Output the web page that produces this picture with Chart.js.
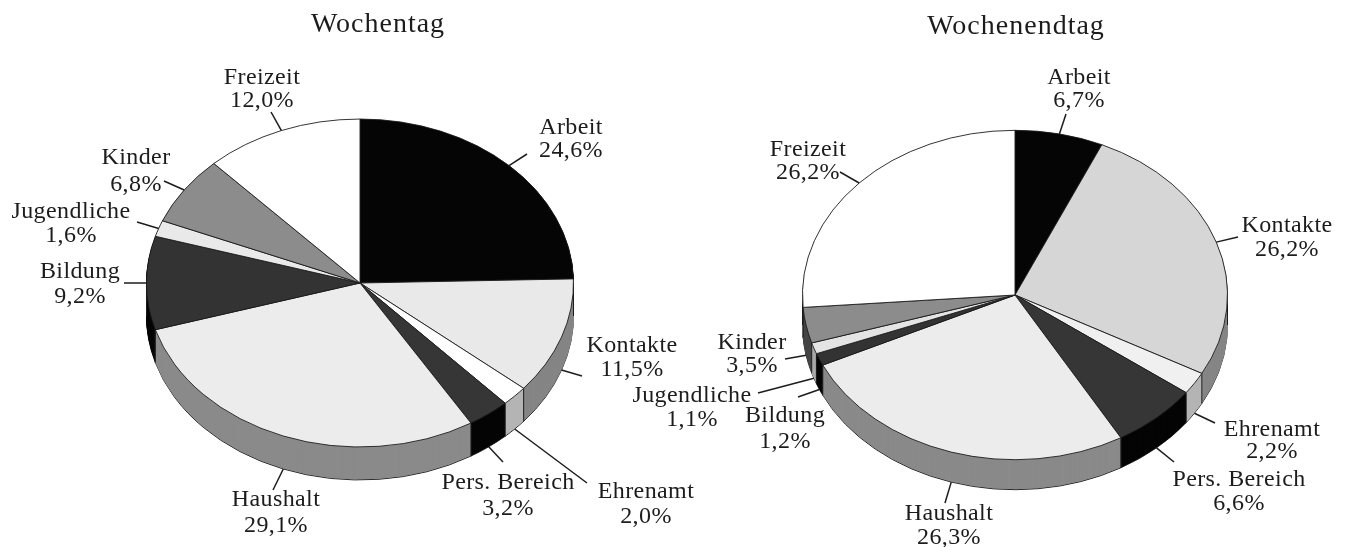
<!DOCTYPE html>
<html lang="de">
<head>
<meta charset="UTF-8" />
<title>Wochentag / Wochenendtag</title>
<script src="https://cdnjs.cloudflare.com/ajax/libs/Chart.js/4.4.1/chart.umd.min.js"></script>
<style>
  html, body { margin: 0; padding: 0; background: #fff; overflow: hidden; }
  canvas { position: absolute; left: 0; top: 0; }
</style>
</head>
<body>
<canvas id="wochentag" width="1346" height="547"></canvas>
<canvas id="wochenendtag" width="1346" height="547"></canvas>
<script>
  // data
  const categories = ["Arbeit", "Kontakte", "Ehrenamt", "Pers. Bereich", "Haushalt", "Bildung", "Jugendliche", "Kinder", "Freizeit"];
  const wochentagValues = [24.6, 11.5, 2.0, 3.2, 29.1, 9.2, 1.6, 6.8, 12.0];
  const wochenendtagValues = [6.7, 26.2, 2.2, 6.6, 26.3, 1.2, 1.1, 3.5, 26.2];

  // top and side colour of each slice
  const wochentagColors = ["#050505", "#e9e9e9", "#ffffff", "#363636", "#ececec", "#333333", "#e9e9e9", "#8c8c8c", "#ffffff"];
  const wochenendtagColors = ["#050505", "#d6d6d6", "#f0f0f0", "#363636", "#ececec", "#333333", "#e4e4e4", "#8c8c8c", "#ffffff"];
  const wallColors = ["#050505", "#858585", "#b4b4b4", "#050505", "#8a8a8a", "#050505", "#a8a8a8", "#454545", "#cccccc"];

  // label placement: [text centre x, first line y, second line y, leader end x, leader end y]
  const wochentagLabels = [
    [571, 128, 151, 527, 154], [632, 346, 370, 582, 376], [646, 492, 517, 587, 483],
    [508, 483, 509, 503, 462], [276, 500, 526, 273, 490], [80, 272, 297, 124, 283],
    [71, 212, 236, 137, 222], [136, 158, 185, 164, 181], [262, 78, 101, 271, 112]
  ];
  const wochenendtagLabels = [
    [1079, 78, 101, 1066, 114], [1287, 226, 250, 1238, 237], [1272, 430, 452, 1215, 423],
    [1239, 480, 504, 1174, 462], [949, 514, 538, 945, 503], [785, 416, 442, 798, 397],
    [692, 396, 420, 758, 393], [752, 343, 366, 785, 359], [808, 150, 173, 840, 172]
  ];

  function percent(v) {
    return v.toFixed(1).replace(".", ",") + "%";
  }

  // draws the slices squashed to an ellipse, with a side wall below them
  const tiltedPie = {
    id: "tiltedPie",
    beforeDatasetsDraw(chart, args, opts) {
      const ctx = chart.ctx;
      const arcs = chart.getDatasetMeta(0).data;
      const c = arcs[0];

      for (let d = opts.depth; d > 0; d--) {
        ctx.save();
        ctx.translate(c.x, c.y + d);
        ctx.scale(1, opts.squash);
        ctx.translate(-c.x, -c.y);
        arcs.forEach((arc, i) => {
          const saved = arc.options;
          const edge = d === opts.depth ? "#1a1a1a" : wallColors[i];
          arc.options = Object.assign({}, saved, { backgroundColor: wallColors[i], borderColor: edge });
          arc.draw(ctx);
          arc.options = saved;
        });
        ctx.restore();
      }

      // edges between wall segments, only where the wall faces the viewer
      ctx.save();
      ctx.strokeStyle = "#1a1a1a";
      ctx.lineWidth = 1;
      const r = c.outerRadius;
      arcs.forEach(arc => {
        const s = Math.sin(arc.endAngle);
        if (s > 0) {
          const x = arc.x + r * Math.cos(arc.endAngle);
          const y = arc.y + r * opts.squash * s;
          ctx.beginPath();
          ctx.moveTo(x, y);
          ctx.lineTo(x, y + opts.depth);
          ctx.stroke();
        }
      });
      [-1, 1].forEach(side => {
        ctx.beginPath();
        ctx.moveTo(c.x + side * r, c.y);
        ctx.lineTo(c.x + side * r, c.y + opts.depth);
        ctx.stroke();
      });
      ctx.restore();

      ctx.save();
      ctx.translate(c.x, c.y);
      ctx.scale(1, opts.squash);
      ctx.translate(-c.x, -c.y);
    },
    afterDatasetsDraw(chart, args, opts) {
      const ctx = chart.ctx;
      ctx.restore();

      const arcs = chart.getDatasetMeta(0).data;
      const values = chart.data.datasets[0].data;

      ctx.save();
      ctx.fillStyle = "#1c1c1c";
      ctx.strokeStyle = "#1c1c1c";
      ctx.textAlign = "center";
      ctx.textBaseline = "middle";

      ctx.font = '28px "Liberation Serif"';
      ctx.letterSpacing = "1px";
      ctx.fillText(opts.title, opts.titleX, opts.titleY);

      ctx.font = '24px "Liberation Serif"';
      ctx.letterSpacing = "0.4px";
      arcs.forEach((arc, i) => {
        const [tx, y1, y2, lx, ly] = opts.labels[i];
        const mid = (arc.startAngle + arc.endAngle) / 2;
        const sinMid = Math.sin(mid);
        const x0 = arc.x + arc.outerRadius * Math.cos(mid);
        const y0 = arc.y + arc.outerRadius * opts.squash * sinMid + (sinMid > 0.02 ? opts.depth : 0);
        ctx.lineWidth = 1.5;
        ctx.beginPath();
        ctx.moveTo(x0, y0);
        ctx.lineTo(lx, ly);
        ctx.stroke();
        ctx.fillText(chart.data.labels[i], tx, y1);
        ctx.fillText(percent(values[i]), tx, y2);
      });
      ctx.restore();
    }
  };

  function makePie(id, values, colors, padding, pieOptions) {
    return new Chart(document.getElementById(id), {
      type: "pie",
      plugins: [tiltedPie],
      data: {
        labels: categories,
        datasets: [{
          data: values,
          backgroundColor: colors,
          borderColor: "#1a1a1a",
          borderWidth: 1,
          hoverOffset: 0,
          clip: false
        }]
      },
      options: {
        responsive: false,
        animation: false,
        events: [],
        layout: { padding: padding },
        plugins: {
          legend: { display: false },
          tooltip: { enabled: false },
          tiltedPie: pieOptions
        }
      }
    });
  }

  makePie("wochentag", wochentagValues, wochentagColors,
    { left: 146, right: 772, top: 69, bottom: 50 },
    { squash: 0.768, depth: 33, labels: wochentagLabels, title: "Wochentag", titleX: 378, titleY: 25 });

  makePie("wochenendtag", wochenendtagValues, wochenendtagColors,
    { left: 802, right: 118, top: 82, bottom: 39 },
    { squash: 0.775, depth: 30, labels: wochenendtagLabels, title: "Wochenendtag", titleX: 1016, titleY: 27 });
</script>
</body>
</html>
